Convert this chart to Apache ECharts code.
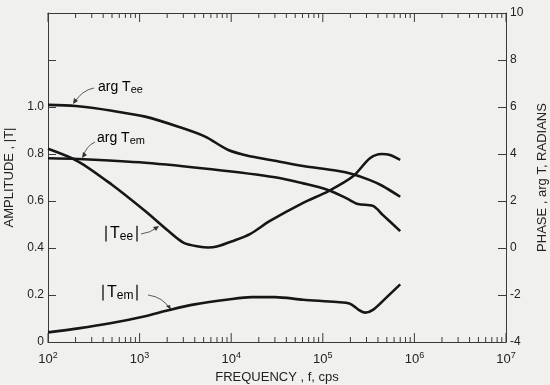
<!DOCTYPE html>
<html>
<head>
    <meta charset="UTF-8">
    <title>Amplitude and phase vs frequency</title>
    <script src="https://cdn.jsdelivr.net/npm/echarts@6/dist/echarts.min.js"></script>
    <style>
        body { margin: 0; background: #f0f0ef; }
    </style>
</head>
<body>
    <div id="main" style="width: 550px;height:385px;"></div>
    <script type="text/javascript">
        // phase curves (radians, right axis)
        var freqArgTee = [100, 200, 500, 1150, 2650, 5200, 9300, 16700, 30000, 61000, 143000, 214000, 327000, 440000, 700000];
        var argTee = [6.09, 6.04, 5.84, 5.59, 5.16, 4.74, 4.17, 3.89, 3.71, 3.49, 3.29, 3.14, 2.89, 2.66, 2.18];

        var freqArgTem = [100, 214, 1150, 6100, 30000, 61000, 114000, 182000, 242000, 353000, 454000, 700000];
        var argTem = [3.82, 3.79, 3.63, 3.35, 3.01, 2.75, 2.47, 2.11, 1.87, 1.79, 1.40, 0.72];

        // amplitude curves (left axis)
        var freqAmpTee = [100, 214, 495, 1150, 2050, 3000, 4560, 5600, 6950, 10500, 16000, 26500, 61000, 114000, 214000, 327000, 440000, 542000, 700000];
        var ampTee = [0.822, 0.768, 0.67, 0.557, 0.473, 0.423, 0.405, 0.402, 0.406, 0.43, 0.459, 0.515, 0.592, 0.641, 0.705, 0.782, 0.80, 0.796, 0.775];

        var freqAmpTem = [100, 214, 495, 1150, 2050, 4000, 9300, 16700, 30000, 61000, 142000, 198000, 244000, 289000, 356000, 500000, 700000];
        var ampTem = [0.041, 0.058, 0.081, 0.11, 0.135, 0.16, 0.181, 0.191, 0.191, 0.18, 0.17, 0.163, 0.138, 0.125, 0.138, 0.191, 0.245];

        // frequency axis ticks (majors at decades, minors at 2..9)
        var majorTickValues = [100, 1000, 10000, 100000, 1000000, 10000000];
        var decades = [100, 1000, 10000, 100000, 1000000];
        var minorSteps = [2, 3, 4, 5, 6, 7, 8, 9];

        var pair = function (xs, ys) { return xs.map(function (x, i) { return [x, ys[i]]; }); };

        var minorTickValues = [];
        decades.forEach(function (d) {
            minorSteps.forEach(function (m) { minorTickValues.push(d * m); });
        });

        var ink = '#161616';
        var axisInk = '#3a3a3a';

        var myChart = echarts.init(document.getElementById('main'));

        var lineStyle = { color: ink, width: 2.6 };
        var subRich = {
            a: { fontSize: 14, color: '#222' },
            s: { fontSize: 11, color: '#222', padding: [6, 0, 0, 0] }
        };
        var absRich = {
            a: { fontSize: 16, color: '#222' },
            s: { fontSize: 12, color: '#222', padding: [6, 0, 0, 0] }
        };

        // short tick marks drawn as thin rect symbols sitting on the bottom / top edge
        function tickSeries(values, yVal, len, down) {
            return {
                type: 'scatter',
                silent: true,
                z: 10,
                symbol: 'rect',
                symbolSize: [1, len],
                symbolOffset: [0, down ? len / 2 : -len / 2],
                itemStyle: { color: axisInk, opacity: 1 },
                data: values.map(function (v) { return [v, yVal]; })
            };
        }

        var option = {
            backgroundColor: '#f0f0ef',
            animation: false,
            textStyle: { fontFamily: 'Liberation Sans' },
            grid: { left: 48, right: 44, top: 13, bottom: 43, containLabel: false, outerBoundsMode: 'none' },
            xAxis: [{
                type: 'log',
                min: 100,
                max: 10000000,
                logBase: 10,
                name: 'FREQUENCY , f, cps',
                nameLocation: 'middle',
                nameGap: 28,
                nameTextStyle: { fontSize: 13, color: '#222' },
                axisLine: { onZero: false, lineStyle: { color: axisInk, width: 1 } },
                axisTick: { show: false },
                splitLine: { show: false },
                axisLabel: {
                    margin: 9,
                    formatter: function (v) {
                        return '{b|10}{s|' + Math.round(Math.log10(v)) + '}';
                    },
                    rich: {
                        b: { fontSize: 13, color: '#222' },
                        s: { fontSize: 9, color: '#222', verticalAlign: 'top', padding: [0, 0, 8, 0] }
                    }
                }
            }, {
                type: 'log',
                position: 'top',
                min: 100,
                max: 10000000,
                logBase: 10,
                axisLine: { onZero: false, lineStyle: { color: axisInk, width: 1 } },
                axisTick: { show: false },
                axisLabel: { show: false },
                splitLine: { show: false }
            }],
            yAxis: [{
                type: 'value',
                min: 0,
                max: 1.4,
                interval: 0.2,
                name: 'AMPLITUDE , |T|',
                nameLocation: 'middle',
                nameRotate: 90,
                nameGap: 27,
                nameTextStyle: { fontSize: 13, color: '#222' },
                axisLine: { show: true, onZero: false, lineStyle: { color: axisInk, width: 1 } },
                axisTick: { show: true, inside: true, length: 8, lineStyle: { color: axisInk } },
                splitLine: { show: false },
                axisLabel: {
                    margin: 4,
                    fontSize: 12,
                    color: '#222',
                    formatter: function (v) {
                        if (v > 1.01) return '';
                        return v === 0 ? '0' : v.toFixed(1);
                    }
                }
            }, {
                type: 'value',
                position: 'right',
                min: -4,
                max: 10,
                interval: 2,
                name: 'PHASE , arg T, RADIANS',
                nameLocation: 'middle',
                nameRotate: 90,
                nameGap: 30,
                nameTextStyle: { fontSize: 13, color: '#222' },
                axisLine: { show: true, onZero: false, lineStyle: { color: axisInk, width: 1 } },
                axisTick: { show: true, inside: true, length: 8, lineStyle: { color: axisInk } },
                splitLine: { show: false },
                axisLabel: { margin: 4, fontSize: 12, color: '#222' }
            }],
            series: [{
                name: 'arg Tee',
                type: 'line',
                yAxisIndex: 1,
                data: pair(freqArgTee, argTee),
                smooth: 0.3,
                showSymbol: false,
                lineStyle: lineStyle
            }, {
                name: 'arg Tem',
                type: 'line',
                yAxisIndex: 1,
                data: pair(freqArgTem, argTem),
                smooth: 0.3,
                showSymbol: false,
                lineStyle: lineStyle
            }, {
                name: '|Tee|',
                type: 'line',
                data: pair(freqAmpTee, ampTee),
                smooth: 0.3,
                showSymbol: false,
                lineStyle: lineStyle
            }, {
                name: '|Tem|',
                type: 'line',
                data: pair(freqAmpTem, ampTem),
                smooth: 0.3,
                showSymbol: false,
                lineStyle: lineStyle
            },
                tickSeries(majorTickValues, 0, 9, false),
                tickSeries(minorTickValues, 0, 5, false),
                tickSeries(majorTickValues, 1.4, 9, true),
                tickSeries(minorTickValues, 1.4, 5, true)
            ],
            graphic: [
                { type: 'text', left: 98, top: 80, style: { text: '{a|arg T}{s|ee}', rich: subRich } },
                { type: 'text', left: 97, top: 131, style: { text: '{a|arg T}{s|em}', rich: subRich } },
                { type: 'text', left: 102, top: 226, style: { text: '{a|\u2223T}{s|ee}{a|\u2223}', rich: absRich } },
                { type: 'text', left: 99, top: 285, style: { text: '{a|\u2223T}{s|em}{a|\u2223}', rich: absRich } },
                { type: 'bezierCurve', shape: { x1: 94, y1: 88, x2: 74, y2: 103, cpx1: 82, cpy1: 90 }, style: { stroke: '#333', lineWidth: 0.8, fill: null } },
                { type: 'polygon', shape: { points: [[73, 104], [74, 98], [78, 101]] }, style: { fill: '#333' } },
                { type: 'bezierCurve', shape: { x1: 95, y1: 142, x2: 83, y2: 157, cpx1: 86, cpy1: 146 }, style: { stroke: '#333', lineWidth: 0.8, fill: null } },
                { type: 'polygon', shape: { points: [[82, 158], [83, 152], [87, 155]] }, style: { fill: '#333' } },
                { type: 'bezierCurve', shape: { x1: 141, y1: 234, x2: 158, y2: 227, cpx1: 150, cpy1: 233 }, style: { stroke: '#333', lineWidth: 0.8, fill: null } },
                { type: 'polygon', shape: { points: [[159, 226], [153, 227], [156, 231]] }, style: { fill: '#333' } },
                { type: 'bezierCurve', shape: { x1: 148, y1: 295, x2: 170, y2: 309, cpx1: 163, cpy1: 297 }, style: { stroke: '#333', lineWidth: 0.8, fill: null } },
                { type: 'polygon', shape: { points: [[171, 310], [166, 306], [170, 305]] }, style: { fill: '#333' } }
            ]
        };

        myChart.setOption(option);
    </script>
</body>
</html>
